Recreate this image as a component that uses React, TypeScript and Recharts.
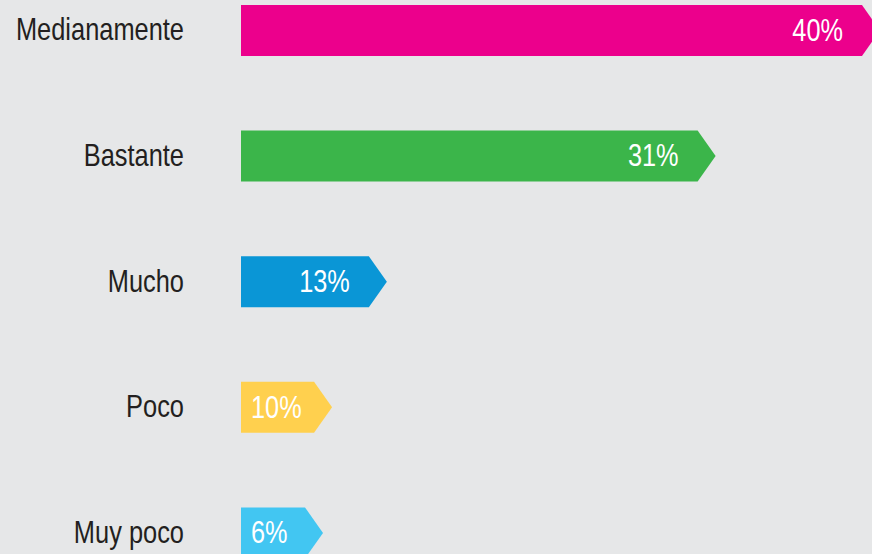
import React from 'react';
import { BarChart, Bar, XAxis, YAxis, Cell } from 'recharts';

const categories = ['Medianamente', 'Bastante', 'Mucho', 'Poco', 'Muy poco'];
const values = [40, 31, 13, 10, 6];
const colors = ['#EC008C', '#3BB54A', '#0A96D6', '#FFD04E', '#42C6F2'];

const data = categories.map((c, i) => ({ name: c, value: values[i] }));

const FONT = '"Liberation Sans", Arial, sans-serif';
const SQUEEZE = 0.83;

const ArrowBar = (props: any) => {
  const { x, y, width, height, fill, payload } = props;
  const tip = 18;
  const d = `M${x},${y} L${x + width},${y} L${x + width + tip},${y + height / 2} L${x + width},${y + height} L${x},${y + height} Z`;
  const text = `${payload.value}%`;
  const fs = 30.5;
  const estW = (String(payload.value).length * 0.556 + 0.889) * fs * SQUEEZE;
  const right = x + width - 19;
  const useEnd = right - estW >= x + 10;
  const tx = useEnd ? right : x + 10;
  return (
    <g>
      <path d={d} fill={fill} />
      <text
        transform={`translate(${tx},${y + height / 2}) scale(${SQUEEZE},1)`}
        x={0}
        y={0}
        dy="0.34em"
        textAnchor={useEnd ? 'end' : 'start'}
        fill="#ffffff"
        fontSize={fs}
        fontFamily={FONT}
      >
        {text}
      </text>
    </g>
  );
};

const CatTick = (props: any) => {
  const { x, y, payload } = props;
  return (
    <text
      transform={`translate(${x},${y}) scale(0.82,1)`}
      x={0}
      y={0}
      dy="0.31em"
      textAnchor="end"
      fill="#231F20"
      fontSize={31}
      fontFamily={FONT}
    >
      {payload.value}
    </text>
  );
};

export default function App() {
  return (
    <div style={{ position: 'absolute', left: 0, top: 0, width: 872, height: 554, overflow: 'hidden', background: '#E6E7E8' }}>
      <div style={{ position: 'absolute', left: 0, top: -32 }}>
        <BarChart
          width={872}
          height={628}
          data={data}
          layout="vertical"
          margin={{ top: 0, right: 10, left: 0, bottom: 0 }}
        >
          <XAxis type="number" hide domain={['dataMin', 'dataMax']} />
          <YAxis
            type="category"
            dataKey="name"
            width={241}
            axisLine={false}
            tickLine={false}
            tickSize={0}
            tickMargin={57}
            tick={CatTick}
          />
          <Bar dataKey="value" barSize={51} minPointSize={64} isAnimationActive={false} shape={ArrowBar}>
            {data.map((d, i) => (
              <Cell key={d.name} fill={colors[i]} />
            ))}
          </Bar>
        </BarChart>
      </div>
    </div>
  );
}
